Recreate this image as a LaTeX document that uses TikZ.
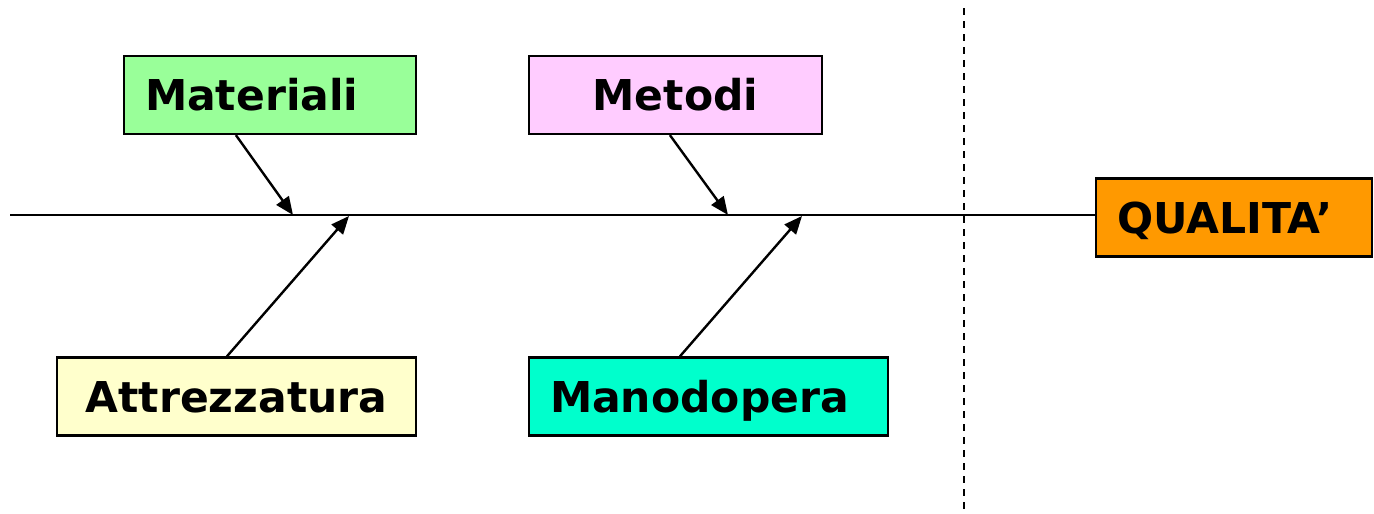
\documentclass[tikz,border=0pt]{standalone}
\usepackage{fontspec}
\setmainfont{DejaVu Sans}
\usetikzlibrary{arrows.meta,calc}
\begin{document}
\begin{tikzpicture}[x=1pt,y=-1pt,
  catbox/.style={draw=black,line width=2.2pt,inner sep=0pt,minimum height=78pt,
    font=\fontsize{42.5}{42.5}\selectfont\bfseries,text height=31pt,text depth=0pt},
  bone/.style={line width=2.4pt,-{Triangle[length=18pt,width=15pt]}},
  spine/.style={line width=2.4pt},
  divider/.style={line width=1.8pt,dash pattern=on 7pt off 6pt}]
\useasboundingbox (0,0) rectangle (1374,514);
\node[catbox,fill={rgb,255:red,153;green,255;blue,153},minimum width=292pt,text width=250pt,align=left] (mat) at (270,95) {Materiali};
\node[catbox,fill={rgb,255:red,255;green,204;blue,255},minimum width=293pt,text width=293pt,align=center] (met) at (675.5,95) {Metodi};
\node[catbox,fill={rgb,255:red,255;green,255;blue,204},minimum width=359pt,text width=359pt,align=center] (att) at (236.5,396.5) {Attrezzatura};
\node[catbox,fill={rgb,255:red,0;green,255;blue,204},minimum width=359pt,text width=317pt,align=left] (man) at (708.5,396.5) {Manodopera};
\node[catbox,fill={rgb,255:red,255;green,153;blue,0},minimum width=276pt,text width=234pt,align=left] (qual) at (1234,217.5) {QUALITA’};
\coordinate (start) at (10,215);
\coordinate (top) at (964,8);
\coordinate (bot) at (964,514);
\coordinate (p1) at (293,215);
\coordinate (p2) at (349,216);
\coordinate (p3) at (728,215);
\coordinate (p4) at (802,216);
\draw[divider] (top) -- (bot);
\draw[spine] (start) -- (start -| qual.west);
\draw[bone] ($(mat.south west)+(113,0)$) -- (p1);
\draw[bone] ($(met.south west)+(142,0)$) -- (p3);
\draw[bone] ($(att.north west)+(171,0)$) -- (p2);
\draw[bone] ($(man.north west)+(152,0)$) -- (p4);
\end{tikzpicture}
\end{document}
